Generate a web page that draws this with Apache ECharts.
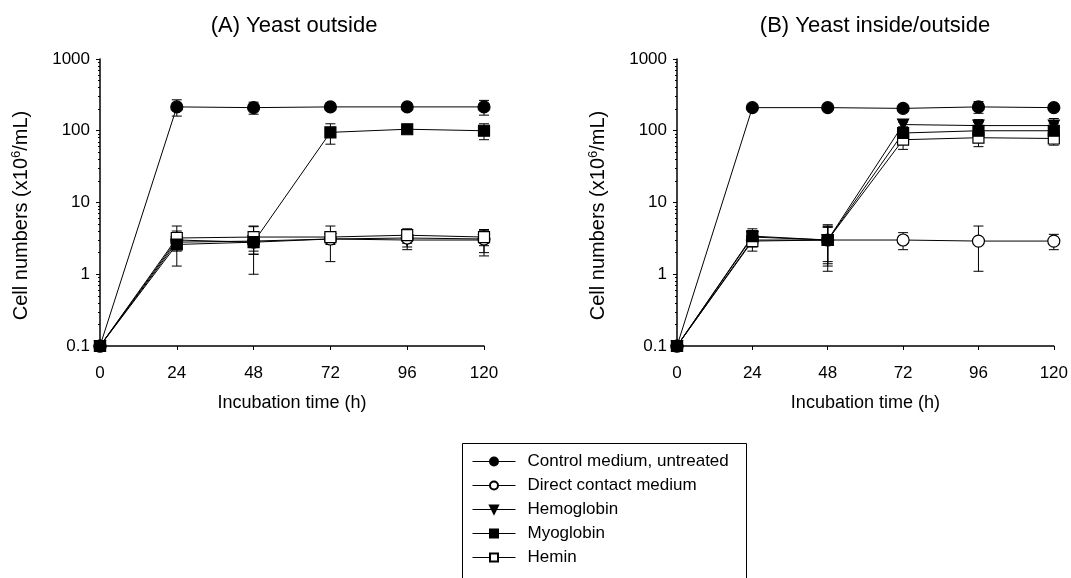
<!DOCTYPE html>
<html>
<head>
<meta charset="utf-8">
<script src="https://cdn.jsdelivr.net/npm/echarts@6/dist/echarts.min.js"></script>
<style>
  html, body { margin: 0; padding: 0; background: #fff; }
  #chart { width: 1071px; height: 578px; }
</style>
</head>
<body>
<div id="chart"></div>
<script>
// incubation time (h)
const hours = [0, 24, 48, 72, 96, 120]
const xTicks = ['0', '24', '48', '72', '96', '120']

// panel A - yeast outside (x10^6 cells/mL), mean and SD
const controlA = [0.1, 215, 210, 215, 215, 215]
const controlErrA = [0, 55, 40, 20, 20, 50]
const directA = [0.1, 3.0, 2.8, 3.1, 3.2, 3.1]
const directErrA = [0, 1.7, 1.8, 1.6, 1.0, 1.1]
const hemoglobinA = [0.1, 2.8, 2.9, 3.1, 3.0, 3.0]
const hemoglobinErrA = [0, 0.6, 1.0, 0.5, 0.6, 1.2]
const myoglobinA = [0.1, 2.6, 2.8, 95, 105, 100]
const myoglobinErrA = [0, 0.5, 0.7, 30, 8, 25]
const heminA = [0.1, 3.2, 3.3, 3.3, 3.5, 3.3]
const heminErrA = [0, 0.8, 1.4, 0.4, 0.8, 0.8]

// panel B - yeast inside/outside
const controlB = [0.1, 210, 210, 205, 215, 210]
const controlErrB = [0, 15, 10, 15, 40, 15]
const directB = [0.1, 3.0, 3.0, 3.0, 2.9, 2.9]
const directErrB = [0, 0.6, 1.9, 0.8, 1.8, 0.7]
const hemoglobinB = [0.1, 3.3, 3.0, 122, 118, 118]
const hemoglobinErrB = [0, 0.5, 1.5, 10, 25, 30]
const myoglobinB = [0.1, 3.4, 3.0, 93, 100, 100]
const myoglobinErrB = [0, 0.9, 1.6, 20, 30, 25]
const heminB = [0.1, 2.9, 3.0, 75, 80, 78]
const heminErrB = [0, 0.8, 1.7, 20, 20, 15]

const FONT = 'Liberation Sans'
const names = ['Control medium, untreated', 'Direct contact medium', 'Hemoglobin', 'Myoglobin', 'Hemin']

const pairs = (vals) => hours.map((h, i) => [h, vals[i]])
const errPairs = (vals, errs) => hours.map((h, i) => [h, vals[i], errs[i]])

const styles = {
  'Control medium, untreated': { symbol: 'circle', symbolSize: 12, fill: '#000' },
  'Direct contact medium': { symbol: 'circle', symbolSize: 12, fill: '#fff' },
  'Hemoglobin': { symbol: 'triangle', symbolSize: 11, fill: '#000', rotate: 180 },
  'Myoglobin': { symbol: 'rect', symbolSize: 11, fill: '#000' },
  'Hemin': { symbol: 'rect', symbolSize: 11, fill: '#fff' },
}

function lineSeries(name, vals, idx) {
  const s = styles[name]
  return {
    type: 'line',
    name: name,
    xAxisIndex: idx,
    yAxisIndex: idx,
    data: pairs(vals),
    symbol: s.symbol,
    symbolSize: s.symbolSize,
    symbolRotate: s.rotate || 0,
    clip: false,
    z: 3,
    lineStyle: { color: '#000', width: 1 },
    itemStyle: { color: s.fill, borderColor: '#000', borderWidth: 1.2 },
    emphasis: { disabled: true },
  }
}

function errSeries(vals, errs, idx) {
  return {
    type: 'custom',
    xAxisIndex: idx,
    yAxisIndex: idx,
    data: errPairs(vals, errs),
    encode: { x: 0, y: 1 },
    z: 2,
    silent: true,
    renderItem: function (params, api) {
      const x = api.value(0)
      const y = api.value(1)
      const e = api.value(2)
      if (!e) return
      const hi = api.coord([x, y + e])
      const lo = api.coord([x, Math.max(y - e, 0.1)])
      const st = { stroke: '#000', lineWidth: 1 }
      return {
        type: 'group',
        children: [
          { type: 'line', shape: { x1: hi[0], y1: hi[1], x2: lo[0], y2: lo[1] }, style: st },
          { type: 'line', shape: { x1: hi[0] - 5, y1: hi[1], x2: hi[0] + 5, y2: hi[1] }, style: st },
          { type: 'line', shape: { x1: lo[0] - 5, y1: lo[1], x2: lo[0] + 5, y2: lo[1] }, style: st },
        ],
      }
    },
  }
}

function xAxis(idx) {
  return {
    type: 'value',
    gridIndex: idx,
    min: 0,
    max: 120,
    interval: 24,
    name: 'Incubation time (h)',
    nameLocation: 'middle',
    nameGap: 48,
    nameTextStyle: { color: '#000', fontSize: 18, fontFamily: FONT },
    axisLine: { lineStyle: { color: '#000', width: 1.5 } },
    axisTick: { show: true, inside: false, length: 4, lineStyle: { color: '#000' } },
    axisLabel: { color: '#000', fontSize: 17, fontFamily: FONT, margin: 19,
      formatter: (v) => xTicks[hours.indexOf(v)] },
    splitLine: { show: false },
  }
}

function yAxis(idx) {
  return {
    type: 'log',
    logBase: 10,
    gridIndex: idx,
    min: 0.1,
    max: 1000,
    name: 'Cell numbers (x10{sup|6}/mL)',
    nameLocation: 'middle',
    nameGap: 67,
    nameTextStyle: {
      color: '#000', fontSize: 20, fontFamily: FONT,
      padding: [0, 26, 0, 0],
      rich: { sup: { fontSize: 13, fontFamily: FONT, color: '#000', padding: [0, 0, 10, 0] } },
    },
    axisLine: { show: true, lineStyle: { color: '#000', width: 1.5 } },
    axisTick: { show: true, inside: false, length: 4, lineStyle: { color: '#000' } },
    minorTick: { show: true, splitNumber: 9, length: 2, lineStyle: { color: '#000' } },
    axisLabel: { color: '#000', fontSize: 17, fontFamily: FONT, margin: 10,
      formatter: (v) => String(v) },
    splitLine: { show: false },
  }
}

const chart = echarts.init(document.getElementById('chart'), null, { renderer: 'canvas' })

const series = []
const panels = [
  [controlA, controlErrA, directA, directErrA, hemoglobinA, hemoglobinErrA, myoglobinA, myoglobinErrA, heminA, heminErrA],
  [controlB, controlErrB, directB, directErrB, hemoglobinB, hemoglobinErrB, myoglobinB, myoglobinErrB, heminB, heminErrB],
]
panels.forEach((p, idx) => {
  for (let k = 0; k < 5; k++) series.push(errSeries(p[k * 2], p[k * 2 + 1], idx))
  // draw order: hemoglobin, direct, hemin, myoglobin, control on top
  series.push(lineSeries(names[2], p[4], idx))
  series.push(lineSeries(names[1], p[2], idx))
  series.push(lineSeries(names[4], p[8], idx))
  series.push(lineSeries(names[3], p[6], idx))
  series.push(lineSeries(names[0], p[0], idx))
})

const option = {
  backgroundColor: '#fff',
  animation: false,
  title: [
    { text: '(A) Yeast outside', left: 289, top: 10, textAlign: 'center',
      textStyle: { color: '#000', fontSize: 22, fontWeight: 'normal', fontFamily: FONT } },
    { text: '(B) Yeast inside/outside', left: 870, top: 10, textAlign: 'center',
      textStyle: { color: '#000', fontSize: 22, fontWeight: 'normal', fontFamily: FONT } },
  ],
  grid: [
    { left: 100, top: 59, width: 384, height: 287 },
    { left: 677, top: 59, width: 383, height: 287 },
  ],
  xAxis: [xAxis(0), xAxis(1)],
  yAxis: [yAxis(0), yAxis(1)],
  legend: {
    data: names,
    orient: 'vertical',
    left: 472,
    top: 453,
    itemWidth: 43,
    itemHeight: 10,
    itemGap: 7,
    padding: 0,
    selectedMode: false,
    lineStyle: { width: 1 },
    textStyle: { color: '#000', fontSize: 17, fontFamily: FONT, padding: [0, 0, 0, 7] },
  },
  graphic: [{
    type: 'rect',
    shape: { x: 462.5, y: 443.5, width: 284, height: 160 },
    style: { fill: 'none', stroke: '#000', lineWidth: 1 },
  }],
  series: series,
}
chart.setOption(option)
</script>
</body>
</html>
